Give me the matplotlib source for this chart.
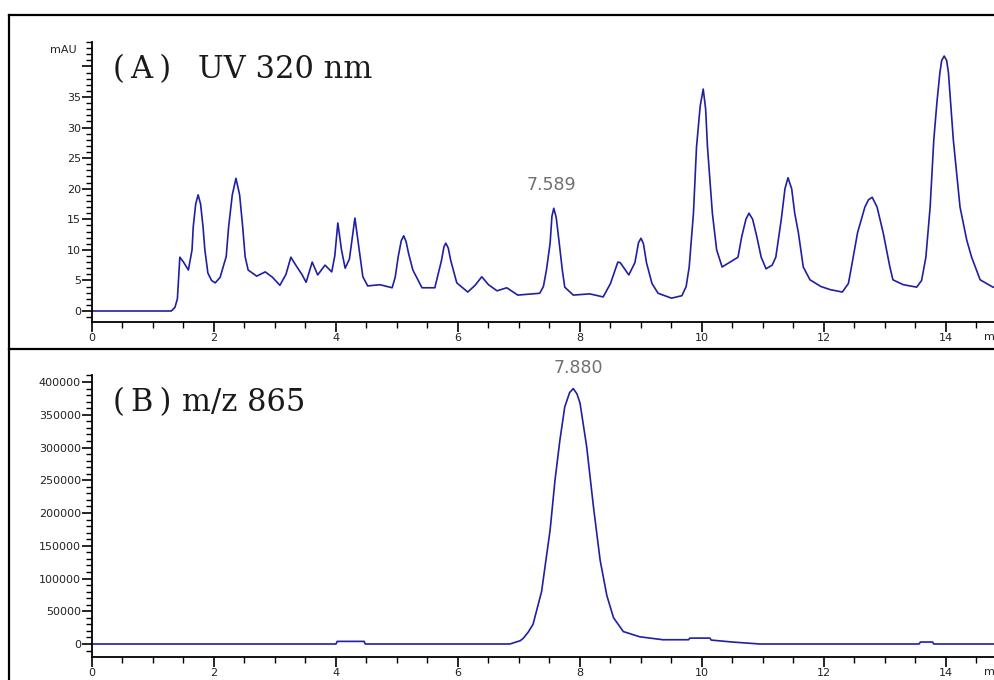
import matplotlib as mpl
import matplotlib.pyplot as plt
from matplotlib.lines import Line2D
from matplotlib.ticker import MultipleLocator, FuncFormatter

# (A) UV 320 nm trace
uv_time = [0.00, 1.30, 1.36, 1.40, 1.44, 1.50, 1.58, 1.64, 1.66, 1.70, 1.74, 1.78,
           1.82, 1.85, 1.90, 1.96, 2.02, 2.10, 2.20, 2.24, 2.30, 2.36, 2.42, 2.47,
           2.51, 2.56, 2.70, 2.84, 2.96, 3.08, 3.18, 3.26, 3.36, 3.44, 3.51, 3.61,
           3.70, 3.82, 3.93, 3.98, 4.03, 4.09, 4.15, 4.22, 4.31, 4.38, 4.44, 4.52,
           4.72, 4.92, 4.97, 5.02, 5.07, 5.11, 5.15, 5.19, 5.26, 5.41, 5.62, 5.73,
           5.77, 5.80, 5.84, 5.88, 5.98, 6.16, 6.28, 6.39, 6.50, 6.64, 6.80, 6.98,
           7.34, 7.40, 7.45, 7.51, 7.54, 7.57, 7.61, 7.66, 7.71, 7.75, 7.89, 8.16,
           8.38, 8.50, 8.62, 8.66, 8.80, 8.90, 8.96, 9.00, 9.04, 9.09, 9.18, 9.28,
           9.50, 9.67, 9.74, 9.79, 9.86, 9.91, 9.97, 10.02, 10.06, 10.09, 10.17,
           10.24, 10.33, 10.51, 10.59, 10.65, 10.72, 10.77, 10.83, 10.90, 10.97,
           11.05, 11.15, 11.21, 11.30, 11.36, 11.41, 11.47, 11.52, 11.58, 11.66,
           11.77, 11.95, 12.10, 12.30, 12.40, 12.45, 12.55, 12.67, 12.73, 12.79,
           12.87, 12.97, 13.08, 13.13, 13.30, 13.52, 13.60, 13.67, 13.74, 13.80,
           13.85, 13.90, 13.93, 13.97, 14.01, 14.04, 14.12, 14.23, 14.34, 14.42,
           14.56, 14.77, 14.95]
uv_mau = [0.0, 0.0, 0.6, 2.0, 8.8, 8.0, 6.7, 10.0, 13.8, 17.5, 19.0, 17.5,
          13.8, 10.0, 6.2, 5.0, 4.6, 5.5, 8.9, 13.8, 19.0, 21.7, 19.0, 13.8,
          8.9, 6.7, 5.7, 6.4, 5.5, 4.2, 6.0, 8.8, 7.2, 6.0, 4.7, 8.0,
          5.9, 7.5, 6.4, 9.0, 14.4, 10.0, 7.0, 8.5, 15.2, 10.0, 5.6, 4.1,
          4.3, 3.8, 5.5, 8.9, 11.5, 12.3, 11.3, 9.4, 6.7, 3.8, 3.8, 8.3,
          10.5, 11.1, 10.3, 8.3, 4.6, 3.1, 4.2, 5.6, 4.3, 3.3, 3.8, 2.6,
          2.9, 4.0, 6.7, 11.1, 15.5, 16.8, 15.3, 11.1, 6.7, 3.9, 2.6, 2.8,
          2.3, 4.5, 8.0, 7.9, 5.9, 7.9, 11.2, 11.9, 11.0, 7.9, 4.5, 2.9,
          2.1, 2.5, 4.0, 7.2, 16.0, 26.8, 33.5, 36.3, 33.0, 26.8, 16.0,
          10.0, 7.2, 8.3, 8.8, 12.1, 15.0, 16.0, 15.0, 12.1, 8.8,
          6.9, 7.5, 8.8, 15.0, 20.0, 21.8, 20.0, 16.0, 12.8, 7.2,
          5.1, 4.0, 3.5, 3.1, 4.5, 7.2, 12.8, 17.0, 18.2, 18.6,
          17.0, 12.8, 7.2, 5.1, 4.3, 3.9, 5.0, 8.8, 17.0, 28.0,
          34.0, 39.0, 41.0, 41.7, 41.0, 39.0, 28.0, 17.0, 11.6, 8.8,
          5.1, 3.9, 3.9]

# (B) m/z 865 extracted ion trace
ms_time = [0.00, 4.00, 4.02, 4.46, 4.48, 6.85, 7.02, 7.07, 7.15, 7.23, 7.37, 7.51,
           7.59, 7.67, 7.75, 7.83, 7.89, 7.95, 8.00, 8.11, 8.22, 8.33, 8.44, 8.55,
           8.71, 8.98, 9.36, 9.78, 9.80, 10.13, 10.15, 10.50, 10.95, 13.56, 13.58,
           13.78, 13.80, 14.95]
ms_counts = [0, 0, 4000, 4000, 0, 0, 5000, 8700, 18000, 30000, 80000, 174000,
             250000, 311000, 362000, 384000, 390000, 382000, 368000, 301000, 210000,
             128000, 74000, 40000, 19000, 11000, 6500, 6500, 9000, 9000, 6000, 3000,
             0, 0, 3000, 3000, 0, 0]

uv_label = '7.589'
ms_label = '7.880'

LINE = '#1f1fa6'
W, H = 995, 680
PX_PER_MIN = 61

fig = plt.figure(figsize=(W / 100, H / 100), dpi=100)


def px_axes(top, bottom, left=92):
    right = left + 16 * PX_PER_MIN
    return fig.add_axes([left / W, 1 - bottom / H, (right - left) / W, (bottom - top) / H])


def style(ax):
    ax.spines['top'].set_visible(False)
    ax.spines['right'].set_visible(False)
    ax.spines['left'].set_linewidth(1.3)
    ax.spines['bottom'].set_linewidth(1.3)
    ax.set_xlim(0, 16)
    ax.xaxis.set_major_locator(MultipleLocator(2))
    ax.xaxis.set_minor_locator(MultipleLocator(0.5))
    ax.tick_params(which='major', length=7, width=1.2, pad=1, labelsize=8,
                   labelcolor='#222222', direction='out')
    ax.tick_params(which='minor', length=4, width=1.0, direction='out')


ax1 = px_axes(42, 322)
ax2 = px_axes(375, 657)
for ax in (ax1, ax2):
    style(ax)

ax1.plot(uv_time, uv_mau, color=LINE, linewidth=1.2)
ax1.set_ylim(-1.8, 44)
ax1.yaxis.set_major_locator(MultipleLocator(5))
ax1.yaxis.set_minor_locator(MultipleLocator(1))
ax1.yaxis.set_major_formatter(FuncFormatter(lambda v, p: '' if v > 37 else '%d' % v))

ax2.plot(ms_time, ms_counts, color=LINE, linewidth=1.2)
ax2.set_ylim(-19850, 410760)
ax2.yaxis.set_major_locator(MultipleLocator(50000))
ax2.yaxis.set_minor_locator(MultipleLocator(10000))
ax2.yaxis.set_major_formatter(FuncFormatter(lambda v, p: '%d' % v))

# peak labels
i = uv_mau.index(max(uv_mau[70:85]))
ax1.annotate(uv_label, xy=(uv_time[i], uv_mau[i]), xytext=(-2, 17),
             textcoords='offset points', ha='center', va='center',
             fontsize=12.5, color='#707070')
j = ms_counts.index(max(ms_counts))
ax2.annotate(ms_label, xy=(ms_time[j], ms_counts[j]), xytext=(4, 14.5),
             textcoords='offset points', ha='center', va='center',
             fontsize=12.5, color='#707070', annotation_clip=False)

# panel titles
serif = dict(family='DejaVu Serif', fontsize=22, va='center', color='#1a1a1a')
fig.text(113 / W, 1 - 70 / H, '(\u2009A\u2009)', **serif)
fig.text(198 / W, 1 - 70 / H, 'UV 320 nm', **serif)
fig.text(113 / W, 1 - 403 / H, '(\u2009B\u2009)', **serif)
fig.text(182 / W, 1 - 403 / H, 'm/z 865', **serif)

fig.text(77 / W, 1 - 50 / H, 'mAU', ha='right', va='center', fontsize=8, color='#222222')
fig.text(984 / W, 1 - 337 / H, 'min', ha='left', va='center', fontsize=8, color='#222222')
fig.text(984 / W, 1 - 672 / H, 'min', ha='left', va='center', fontsize=8, color='#222222')

# outer frame and divider
for xs, ys in [([9, 9], [15, 680]), ([9, 995], [15, 15]), ([9, 995], [349, 349])]:
    fig.add_artist(Line2D([x / W for x in xs], [1 - y / H for y in ys],
                          transform=fig.transFigure, color='black', linewidth=1.6))

fig.savefig('out.png', dpi=100)
